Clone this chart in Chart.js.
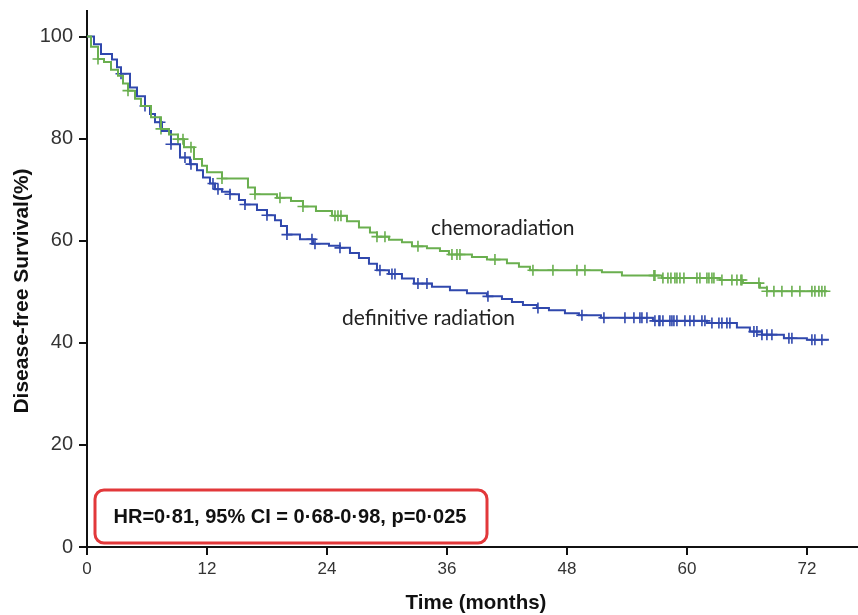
<!DOCTYPE html>
<html>
<head>
<meta charset="utf-8">
<script src="https://cdn.jsdelivr.net/npm/chart.js@4"></script>
<style>
  body { margin: 0; background: #fff; }
  #km { display: block; }
</style>
</head>
<body>
<canvas id="km" width="858" height="615"></canvas>
<script>
// step knots (months, % disease-free)
const chemoTimes = [0, 0.4, 1.1, 1.7, 2.4, 3.1, 3.6, 4.1, 4.8, 5.4, 6.4, 7.4, 8.2, 9.1, 9.7, 10.7, 11.5, 12, 13.5, 16.1,
  16.8, 19, 20.4, 21.6, 22.9, 24.5, 26, 27.2, 28.3, 29, 30.2, 31.5, 32.5, 34, 35.3, 36.2, 38.5, 40, 42, 43.2,
  44.3, 51.5, 53.5, 57.5, 63.3, 65.6, 67.3, 68, 74];
const chemoSurv = [100, 98, 95.6, 95, 93.5, 92.3, 90.8, 89.4, 87.8, 86.4, 84.2, 81.9, 80.8, 79.9, 78.3, 76, 74.7, 73.4, 72.2, 70.4,
  69.1, 68.4, 67.8, 66.7, 65.8, 64.9, 63.8, 62.6, 61.6, 60.8, 60.2, 59.7, 58.9, 58.5, 58, 57.3, 56.8, 56.3, 55.6, 54.9,
  54.2, 53.8, 53.2, 52.7, 52.3, 51.7, 50.8, 50.1, 50.1];
const chemoCensor = [1.1, 4.1, 7.4, 9.1, 9.6, 10.4, 13.5, 16.8, 19.3, 21.6, 24.8, 25.1, 25.4, 29.0, 29.8, 33.1, 36.5, 37.0, 37.3,
  40.8, 44.6, 46.6, 49.0, 49.8, 56.7, 56.8, 57.6, 58.1, 58.4, 58.8, 59.0, 59.3, 59.7, 61.0, 61.3, 62.0, 62.2, 62.5, 62.7,
  63.5, 64.5, 65.0, 65.4, 65.5, 67.2, 68.0, 68.7, 69.5, 70.5, 71.3, 72.5, 72.8, 73.2, 73.5, 73.8];

const radioTimes = [0, 0.7, 1.4, 2.5, 3, 3.4, 4.3, 5, 5.8, 6.3, 6.8, 7.5, 8.4, 9.3, 10.3, 11, 11.6, 12.3, 12.8, 13.5,
  14.3, 15.2, 15.8, 17, 18, 18.8, 19.4, 20, 21.3, 22.6, 24.2, 25.3, 26.3, 27.2, 28.2, 29, 30.2, 31.5, 32.7, 34.5,
  36.3, 38, 40, 41.5, 42.5, 43.6, 45, 46.2, 47.8, 49.2, 51.4, 56.6, 62, 65, 66.3, 67.5, 69.7, 72, 74.2];
const radioSurv = [100, 98.5, 96.6, 95.5, 94, 92.7, 90, 88.3, 86.4, 84.8, 83.2, 81.5, 78.9, 76.3, 75, 73.8, 72.4, 71.2, 70.1, 69.6,
  69.1, 68, 67.1, 66, 65, 64, 62.9, 61.2, 60.3, 59.4, 59, 58.6, 57.6, 56.6, 55.5, 54.2, 53.5, 52.6, 51.6, 51,
  50.3, 49.7, 49.1, 48.6, 48, 47.4, 46.8, 46.4, 45.8, 45.4, 44.9, 44.3, 43.9, 43, 42.2, 41.6, 40.9, 40.6, 40.6];
const radioCensor = [3.4, 5.8, 7.3, 8.4, 9.8, 10.4, 12.6, 13.1, 14.3, 15.8, 18.0, 20.0, 22.5, 22.8, 25.3, 29.3, 30.5, 30.8,
  33.1, 34.0, 40.1, 45.1, 49.5, 51.7, 53.8, 54.7, 55.3, 55.5, 56.0, 56.8, 57.2, 57.3, 57.6, 58.3, 58.5, 58.7, 59.0,
  59.8, 60.3, 60.7, 61.5, 61.8, 62.5, 63.2, 63.5, 64.0, 64.3, 66.7, 67.0, 67.5, 68.0, 68.5, 70.2, 70.5, 72.5, 72.8, 73.5];

const xTicks = [0, 12, 24, 36, 48, 60, 72];
const yTicks = [0, 20, 40, 60, 80, 100];

const statsText = "HR=0\u00b781, 95% CI = 0\u00b768-0\u00b798, p=0\u00b7025";
const chemoLabel = "chemoradiation";
const radioLabel = "definitive radiation";

const GREEN = "#6aaf4f";
const BLUE = "#3048ad";

function toPoints(times, surv) {
  const n = Math.min(times.length, surv.length);
  const pts = [];
  for (let i = 0; i < n; i++) pts.push({ x: times[i], y: surv[i] });
  return pts;
}

function survAt(times, surv, t) {
  let v = surv[0];
  for (let i = 0; i < times.length; i++) {
    if (times[i] <= t) v = surv[i];
  }
  return v;
}

function censorPoints(cens, times, surv) {
  return cens.map((t) => ({ x: t, y: survAt(times, surv, t) }));
}

const extras = {
  id: "extras",
  afterDraw(chart) {
    const ctx = chart.ctx;
    const xs = chart.scales.x;
    const ys = chart.scales.y;
    const area = chart.chartArea;
    ctx.save();

    // x axis line runs on to the edge of the figure
    ctx.beginPath();
    ctx.moveTo(area.right - 1, Math.round(area.bottom));
    ctx.lineTo(chart.width, Math.round(area.bottom));
    ctx.lineWidth = 2;
    ctx.strokeStyle = "#111";
    ctx.stroke();

    // curve labels
    ctx.fillStyle = "#222";
    ctx.font = "21px Lato, 'Noto Sans', sans-serif";
    ctx.textBaseline = "middle";
    ctx.textAlign = "left";
    ctx.fillText(chemoLabel, xs.getPixelForValue(34.4), ys.getPixelForValue(62.4));
    ctx.fillText(radioLabel, xs.getPixelForValue(25.5), ys.getPixelForValue(44.8));

    // stats box
    const bx = area.left + 8, by = 490, bw = 392, bh = 53, r = 9;
    ctx.beginPath();
    ctx.roundRect(bx, by, bw, bh, r);
    ctx.fillStyle = "#fff";
    ctx.fill();
    ctx.lineWidth = 3;
    ctx.strokeStyle = "#e2383a";
    ctx.stroke();
    ctx.fillStyle = "#111";
    ctx.font = "bold 20px 'Liberation Sans', Arial, sans-serif";
    ctx.textAlign = "center";
    ctx.fillText(statsText, bx + bw / 2 - 1, by + bh / 2 + 1);

    // axis titles
    ctx.font = "bold 20.5px 'Liberation Sans', Arial, sans-serif";
    ctx.fillText("Time (months)", 476, 603);
    ctx.font = "bold 21px 'Liberation Sans', Arial, sans-serif";
    ctx.translate(22, 291);
    ctx.rotate(-Math.PI / 2);
    ctx.fillText("Disease-free Survival(%)", 0, 0);
    ctx.restore();
  },
};

new Chart(document.getElementById("km"), {
  type: "line",
  data: {
    datasets: [
      {
        data: toPoints(chemoTimes, chemoSurv),
        borderColor: GREEN,
        borderWidth: 2,
        stepped: true,
        pointRadius: 0,
      },
      {
        data: toPoints(radioTimes, radioSurv),
        borderColor: BLUE,
        borderWidth: 2,
        stepped: true,
        pointRadius: 0,
      },
      {
        data: censorPoints(chemoCensor, chemoTimes, chemoSurv),
        showLine: false,
        pointStyle: "cross",
        pointRadius: 5.5,
        pointBorderWidth: 1.6,
        borderColor: GREEN,
        backgroundColor: GREEN,
      },
      {
        data: censorPoints(radioCensor, radioTimes, radioSurv),
        showLine: false,
        pointStyle: "cross",
        pointRadius: 5.5,
        pointBorderWidth: 1.6,
        borderColor: BLUE,
        backgroundColor: BLUE,
      },
    ],
  },
  options: {
    responsive: false,
    animation: false,
    devicePixelRatio: 1,
    layout: { padding: { top: 11, right: 1, left: 0, bottom: 0 } },
    plugins: { legend: { display: false }, tooltip: { enabled: false } },
    scales: {
      x: {
        type: "linear",
        min: 0,
        max: 76.4,
        afterFit: (s) => { s.height = 68; },
        afterBuildTicks: (s) => { s.ticks = xTicks.map((v) => ({ value: v })); },
        border: { color: "#111", width: 2 },
        grid: { drawOnChartArea: false, drawTicks: true, tickLength: 8, color: "#111", lineWidth: 2 },
        ticks: { color: "#333", font: { family: "'Liberation Sans', Arial, sans-serif", size: 17 }, padding: 4, maxRotation: 0 },
      },
      y: {
        min: 0,
        max: 105,
        afterFit: (s) => { s.width = 87; s.paddingTop = 0; s.paddingBottom = 0; },
        afterBuildTicks: (s) => { s.ticks = yTicks.map((v) => ({ value: v })); },
        border: { color: "#111", width: 2 },
        grid: { drawOnChartArea: false, drawTicks: true, tickLength: 8, color: "#111", lineWidth: 2 },
        ticks: { color: "#333", font: { family: "'Liberation Sans', Arial, sans-serif", size: 20 }, padding: 6 },
      },
    },
  },
  plugins: [extras],
});
</script>
</body>
</html>
